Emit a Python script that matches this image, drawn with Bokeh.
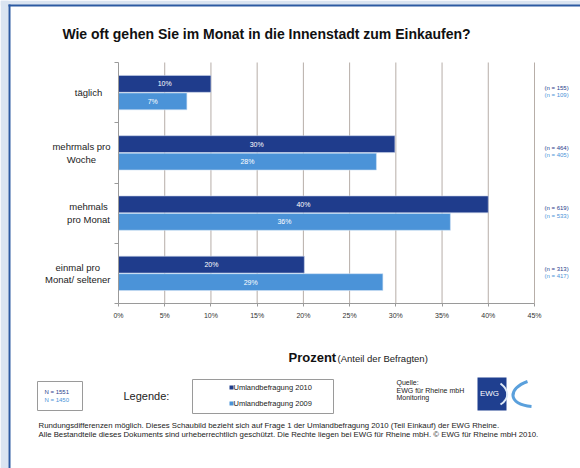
from bokeh.plotting import figure
from bokeh.models import Range1d, FixedTicker, LinearAxis, ColumnDataSource
from bokeh.core.properties import value
from bokeh.embed import file_html
from bokeh.resources import INLINE

# ---------------- data ----------------
title_text = "Wie oft gehen Sie im Monat in die Innenstadt zum Einkaufen?"
categories = ["täglich", "mehrmals pro\nWoche", "mehmals\npro Monat", "einmal pro\nMonat/ seltener"]
share_2010 = [10.0, 29.9, 40.0, 20.1]
share_2009 = [7.4, 27.9, 35.9, 28.6]
n_2010 = [155, 464, 619, 313]
n_2009 = [109, 405, 533, 417]
N_totals = [1551, 1450]
series_names = ["Umlandbefragung 2010", "Umlandbefragung 2009"]
x_ticks = [0, 5, 10, 15, 20, 25, 30, 35, 40, 45]
footnotes = [
    "Rundungsdifferenzen möglich. Dieses  Schaubild bezieht sich auf Frage 1 der Umlandbefragung 2010 (Teil Einkauf) der EWG Rheine.",
    "Alle Bestandteile dieses Dokuments sind urheberrechtlich geschützt. Die Rechte liegen bei EWG für Rheine mbH. © EWG für Rheine mbH 2010.",
]
source_lines = ["Quelle:", "EWG für Rheine mbH", "Monitoring"]

# ---------------- style / layout ----------------
FONT = "Liberation Sans"
DARK = "#1f3c8c"
LIGHT = "#4b93d8"
GRID = "#b7aea8"
AXIS = "#9a9a9a"
TEXT = "#222222"
BG_OUT = "#dae4f1"
BORDER = "#2c5aa2"

W, H = 580, 468
PLOT_L, PLOT_R, PLOT_T, PLOT_B = 118, 534, 62, 303   # pixel box of the chart area
x_max = x_ticks[-1]
n_cat = len(categories)

px_per_x = (PLOT_R - PLOT_L) / x_max
px_per_y = (PLOT_B - PLOT_T) / n_cat
x_range = Range1d(-PLOT_L / px_per_x, (W - PLOT_L) / px_per_x)
y_range = Range1d(-(H - PLOT_B) / px_per_y, n_cat + PLOT_T / px_per_y)

p = figure(width=W, height=H, output_backend="svg", toolbar_location=None,
           x_range=x_range, y_range=y_range,
           x_axis_location=None, y_axis_location=None,
           min_border=0)
p.extra_x_ranges = {"px": Range1d(0, W)}
p.extra_y_ranges = {"px": Range1d(H, 0)}
p.background_fill_color = "white"
p.border_fill_color = "white"
p.outline_line_color = None
p.xgrid.visible = False
p.ygrid.visible = False

def ptext(x, y, text, size, color=TEXT, style="normal", align="left", baseline="middle"):
    p.text(x=[x], y=[y], text=[text], x_range_name="px", y_range_name="px",
           text_font=value(FONT), text_font_size=size, text_color=color,
           text_font_style=style, text_align=align, text_baseline=baseline)

def pbox(l, r, t, b, fill, line=None, lw=1):
    p.quad(left=[l], right=[r], top=[t], bottom=[b], x_range_name="px", y_range_name="px",
           fill_color=fill, line_color=line, line_width=lw)

# rough Arial/Liberation Sans advance widths (em/1000) to place centred multi-line labels
_CW = {" ": 278, "/": 278, "a": 556, "ä": 556, "c": 500, "e": 556, "g": 556, "h": 556, "i": 222,
       "l": 222, "m": 833, "n": 556, "o": 556, "p": 556, "r": 333, "s": 500, "t": 278, "W": 944, "M": 833}
def est_width(s, size):
    return max(sum(_CW.get(ch, 556) for ch in line) for line in s.split("\n")) * size / 1000

# outer frame
pbox(0, W, 0, 5, BG_OUT)
pbox(0, 8, 0, H, BG_OUT)
pbox(8, W, 4, 6, BORDER)
pbox(8, 10, 4, H, BORDER)

# grid lines
p.segment(x0=x_ticks[1:], x1=x_ticks[1:], y0=0, y1=n_cat, line_color=GRID, line_width=1)

# bars
centers = [n_cat - i - 0.5 for i in range(n_cat)]
off = 0.145
bar_h = 0.28
src10 = ColumnDataSource(dict(y=[c + off for c in centers], right=share_2010,
                              mid=[v / 2 for v in share_2010],
                              lab=[f"{round(v)}%" for v in share_2010]))
src09 = ColumnDataSource(dict(y=[c - off for c in centers], right=share_2009,
                              mid=[v / 2 for v in share_2009],
                              lab=[f"{round(v)}%" for v in share_2009]))
p.hbar(y="y", left=0, right="right", height=bar_h, source=src10,
       fill_color=DARK, line_color="#c9d3ea", line_width=0.6)
p.hbar(y="y", left=0, right="right", height=bar_h, source=src09,
       fill_color=LIGHT, line_color="#cfe0f3", line_width=0.6)
for s in (src10, src09):
    p.text(x="mid", y="y", text="lab", source=s, text_color="white",
           text_font_size="7px", text_align="center", text_baseline="middle",
           text_font=value(FONT))

# axes (fixed inside the full-canvas frame)
xaxis = LinearAxis(fixed_location=0, bounds=(0, x_max), ticker=FixedTicker(ticks=x_ticks))
xaxis.major_label_overrides = {t: f"{t}%" for t in x_ticks}
xaxis.major_label_text_font = FONT
xaxis.major_label_text_font_size = "7px"
xaxis.major_label_text_color = "#333333"
xaxis.major_label_standoff = 5
xaxis.major_tick_in = 0
xaxis.major_tick_out = 3
xaxis.minor_tick_line_color = None
xaxis.axis_line_color = AXIS
xaxis.major_tick_line_color = AXIS
p.add_layout(xaxis, "below")

y_ticks = list(range(n_cat + 1))
yaxis = LinearAxis(fixed_location=0, bounds=(0, n_cat), ticker=FixedTicker(ticks=y_ticks))
yaxis.major_label_overrides = {t: "" for t in y_ticks}
yaxis.major_tick_in = 0
yaxis.major_tick_out = 4
yaxis.minor_tick_line_color = None
yaxis.axis_line_color = AXIS
yaxis.major_tick_line_color = AXIS
p.add_layout(yaxis, "left")

# category labels (x in pixels, y through the data scale); blocks end near x=110
CAT_SIZE = 9.5
cat_x = [min(88, 110 - est_width(c, CAT_SIZE) / 2) for c in categories]
p.text(x=cat_x, y=centers, text=categories, x_range_name="px",
       text_font=value(FONT), text_font_size=f"{CAT_SIZE}px", text_color=TEXT,
       text_align="center", text_baseline="middle", text_line_height=1.15)

# n labels
p.text(x=[544] * n_cat, y=[c + 0.08 for c in centers], text=[f"(n = {a})" for a in n_2010],
       x_range_name="px", text_font=value(FONT), text_font_size="6px", text_color=DARK,
       text_align="left", text_baseline="middle")
p.text(x=[544] * n_cat, y=[c - 0.04 for c in centers], text=[f"(n = {b})" for b in n_2009],
       x_range_name="px", text_font=value(FONT), text_font_size="6px", text_color=LIGHT,
       text_align="left", text_baseline="middle")

# title
ptext(266, 33, title_text, "14px", color="#111111", style="bold", align="center")

# x axis title
ptext(288, 357, "Prozent", "13px", color="#111111", style="bold")
ptext(337, 358, "(Anteil der Befragten)", "9.5px")

# N box
pbox(37, 82, 381, 410, "white", line="#9a9a9a")
ptext(44, 391, f"N = {N_totals[0]}", "6px", color=DARK)
ptext(44, 399, f"N = {N_totals[1]}", "6px", color=LIGHT)

# legend
ptext(123, 395, "Legende:", "11px")
pbox(192, 333, 379, 413, "white", line="#9a9a9a")
pbox(229, 233, 385, 389, DARK)
ptext(233, 387, series_names[0], "7.5px")
pbox(229, 233, 401, 405, LIGHT)
ptext(233, 403, series_names[1], "7.5px")

# source
for i, line in enumerate(source_lines):
    ptext(396, 382 + 7.5 * i, line, "7px")

# logo
pbox(477, 506, 377, 410, "#1f3f8f")
ptext(489, 393, "EWG", "8px", color="white", align="center")
p.bezier(x0=[500], y0=[383], x1=[500], y1=[404], cx0=[509], cy0=[390], cx1=[509], cy1=[398],
         x_range_name="px", y_range_name="px", line_color="#dfeaf7", line_width=2)
p.bezier(x0=[527], y0=[381], x1=[531], y1=[406], cx0=[507], cy0=[388], cx1=[507], cy1=[404],
         x_range_name="px", y_range_name="px", line_color="#5aa0dc", line_width=3)

# footnotes
ptext(38, 425, footnotes[0], "7.8px")
ptext(38, 434, footnotes[1], "7.8px")

open("out.html", "w").write(file_html(p, INLINE))
